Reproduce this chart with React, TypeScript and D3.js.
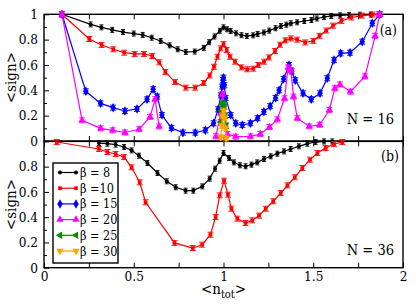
import * as d3 from "d3";
import { useEffect, useRef } from "react";

type Pt = [number, number];

// panel (a), N = 16
const topB8: Pt[] = [
  [0.1, 1.0], [0.26, 0.92], [0.32, 0.897], [0.38, 0.877], [0.44, 0.86], [0.5, 0.848],
  [0.55, 0.837], [0.6, 0.815], [0.65, 0.789], [0.7, 0.755], [0.745, 0.724], [0.79, 0.703],
  [0.84, 0.706], [0.89, 0.735], [0.92, 0.78], [0.95, 0.825], [0.98, 0.87], [1.0, 0.897],
  [1.02, 0.882], [1.04, 0.868], [1.07, 0.85], [1.1, 0.835], [1.13, 0.829], [1.165, 0.834],
  [1.19, 0.845], [1.225, 0.856], [1.255, 0.871], [1.29, 0.89], [1.32, 0.907], [1.35, 0.918],
  [1.375, 0.929], [1.41, 0.937], [1.45, 0.947], [1.49, 0.955], [1.52, 0.967], [1.56, 0.978],
  [1.6, 0.987], [1.65, 0.992], [1.7, 0.995], [1.76, 0.997], [1.82, 0.998], [1.87, 1.0],
];
const topB10: Pt[] = [
  [0.1, 1.0], [0.252, 0.805], [0.321, 0.758], [0.386, 0.724], [0.447, 0.697], [0.505, 0.687],
  [0.557, 0.687], [0.603, 0.671], [0.642, 0.621], [0.676, 0.545], [0.73, 0.465], [0.79, 0.421],
  [0.842, 0.421], [0.89, 0.458], [0.923, 0.517], [0.947, 0.586], [0.966, 0.665], [0.984, 0.731],
  [1.0, 0.765], [1.018, 0.718], [1.036, 0.665], [1.064, 0.626], [1.1, 0.581], [1.132, 0.566],
  [1.166, 0.571], [1.194, 0.6], [1.226, 0.626], [1.253, 0.66], [1.287, 0.71], [1.315, 0.76],
  [1.345, 0.795], [1.375, 0.81], [1.41, 0.8], [1.455, 0.778], [1.5, 0.79], [1.535, 0.83],
  [1.572, 0.872], [1.61, 0.91], [1.657, 0.948], [1.712, 0.975], [1.77, 0.99], [1.83, 0.998],
  [1.87, 1.0],
];
const topB15: Pt[] = [
  [0.1, 1.0], [0.233, 0.392], [0.315, 0.297], [0.385, 0.263], [0.451, 0.237], [0.518, 0.253],
  [0.574, 0.329], [0.608, 0.409], [0.631, 0.35], [0.657, 0.205], [0.71, 0.103], [0.774, 0.066],
  [0.843, 0.066], [0.899, 0.085], [0.945, 0.14], [0.97, 0.25], [0.985, 0.36], [0.992, 0.43],
  [0.997, 0.48], [1.0, 0.5], [1.005, 0.44], [1.012, 0.34], [1.04, 0.205], [1.068, 0.14],
  [1.105, 0.126], [1.15, 0.14], [1.19, 0.18], [1.225, 0.23], [1.26, 0.275], [1.29, 0.34],
  [1.31, 0.4], [1.335, 0.49], [1.365, 0.6], [1.38, 0.55], [1.4, 0.48], [1.443, 0.376],
  [1.489, 0.329], [1.538, 0.376], [1.578, 0.495], [1.616, 0.64], [1.653, 0.692], [1.705, 0.697],
  [1.773, 0.784], [1.829, 0.929], [1.87, 1.0],
];
const topB20Left: Pt[] = [
  [0.1, 1.0], [0.212, 0.163], [0.316, 0.1], [0.383, 0.084], [0.451, 0.067], [0.53, 0.093],
  [0.591, 0.19], [0.619, 0.33], [0.641, 0.115],
];
const topB20Right: Pt[] = [
  [0.958, 0.037], [0.984, 0.22], [0.995, 0.37], [1.005, 0.2], [1.022, 0.055], [1.068, 0.034],
  [1.15, 0.036], [1.205, 0.055], [1.256, 0.11], [1.3, 0.17], [1.34, 0.337], [1.36, 0.58],
  [1.375, 0.56], [1.39, 0.35], [1.411, 0.18], [1.478, 0.115], [1.536, 0.128], [1.59, 0.245],
  [1.62, 0.416], [1.649, 0.446], [1.707, 0.389], [1.788, 0.51], [1.845, 0.83], [1.87, 1.0],
];
const topB25: Pt[] = [
  [0.985, 0.15], [0.99, 0.24], [0.995, 0.29], [1.0, 0.3], [1.005, 0.27], [1.01, 0.2], [1.015, 0.12],
];
const topB30: Pt[] = [
  [0.985, 0.03], [0.99, 0.12], [0.995, 0.2], [1.0, 0.24], [1.005, 0.18], [1.01, 0.1], [1.015, 0.02],
];

// panel (b), N = 36
const botB8: Pt[] = [
  [0.306, 0.987], [0.353, 0.982], [0.399, 0.974], [0.446, 0.956], [0.488, 0.929], [0.529, 0.887],
  [0.576, 0.829], [0.632, 0.75], [0.684, 0.684], [0.734, 0.637], [0.789, 0.61], [0.832, 0.61],
  [0.882, 0.644], [0.923, 0.705], [0.953, 0.784], [0.979, 0.847], [1.0, 0.908], [1.031, 0.869],
  [1.058, 0.834], [1.092, 0.811], [1.123, 0.803], [1.156, 0.816], [1.188, 0.834], [1.226, 0.861],
  [1.263, 0.882], [1.3, 0.903], [1.337, 0.921], [1.374, 0.94], [1.42, 0.961], [1.467, 0.982],
  [1.513, 0.995], [1.56, 1.0], [1.606, 1.0],
];
const botB10: Pt[] = [
  [0.071, 0.995], [0.306, 0.94], [0.353, 0.916], [0.399, 0.9], [0.446, 0.876], [0.488, 0.795],
  [0.533, 0.676], [0.566, 0.518], [0.727, 0.196], [0.829, 0.156], [0.881, 0.182], [0.927, 0.261],
  [0.956, 0.401], [0.979, 0.573], [1.003, 0.689], [1.025, 0.578], [1.044, 0.467], [1.077, 0.388],
  [1.123, 0.354], [1.16, 0.375], [1.198, 0.412], [1.235, 0.467], [1.277, 0.526], [1.319, 0.591],
  [1.356, 0.652], [1.397, 0.716], [1.439, 0.789], [1.482, 0.855], [1.523, 0.908], [1.569, 0.948],
  [1.616, 0.979], [1.662, 0.995],
];

const betas = ["8", "10", "15", "20", "25", "30"];
const legendLabels = ["β = 8", "β =10", "β = 15", "β = 20", "β = 25", "β = 30"];
const xTicks = [0, 0.25, 0.5, 0.75, 1, 1.25, 1.5, 1.75, 2];
const yTicks = [0, 0.1, 0.2, 0.3, 0.4, 0.5, 0.6, 0.7, 0.8, 0.9, 1];

const styles: Record<string, { color: string; symbol: d3.SymbolType; size: number; rotate: number }> = {
  "8": { color: "#000000", symbol: d3.symbolCircle, size: 13, rotate: 0 },
  "10": { color: "#ff0000", symbol: d3.symbolSquare, size: 14, rotate: 0 },
  "15": { color: "#0000ff", symbol: d3.symbolDiamond, size: 26, rotate: 0 },
  "20": { color: "#ff00ff", symbol: d3.symbolTriangle, size: 24, rotate: 0 },
  "25": { color: "#008b00", symbol: d3.symbolTriangle, size: 24, rotate: -90 },
  "30": { color: "#ffa500", symbol: d3.symbolTriangle, size: 24, rotate: 180 },
};

const W = 416;
const H = 306;
const FONT = "'DejaVu Serif Condensed', 'DejaVu Serif', serif";

export default function App() {
  const svgRef = useRef<SVGSVGElement>(null);

  useEffect(() => {
    document.body.style.margin = "0";
    if (!svgRef.current) return;
    const svg = d3.select(svgRef.current);
    svg.selectAll("*").remove();

    const x = d3.scaleLinear().domain([0, 2]).range([44, 403]);
    const yTop = d3.scaleLinear().domain([0, 1]).range([141, 14.3]);
    const yBot = d3.scaleLinear().domain([0, 1]).range([267.7, 141.4]);

    const isMajorY = (d: number) => Math.round(d * 10) % 2 === 0;
    const isMajorX = (d: number) => Math.round(d * 4) % 2 === 0;

    const styleAxis = (g: d3.Selection<SVGGElement, unknown, null, undefined>) => {
      g.attr("font-family", null).attr("font-size", 13.5);
      g.select(".domain").remove();
      g.selectAll(".tick line").attr("stroke", "#000").attr("stroke-width", 1);
      g.selectAll("text").attr("fill", "#000");
    };

    // axes for one panel
    const drawAxes = (y: d3.ScaleLinear<number, number>, showX: boolean, yLabels: (d: number) => string) => {
      const gb = svg
        .append("g")
        .attr("transform", `translate(0,${y(0)})`)
        .call(
          d3
            .axisBottom(x)
            .tickValues(xTicks)
            .tickSize(-5)
            .tickPadding(4)
            .tickFormat((d) => (showX && isMajorX(+d) ? d3.format("")(+d) : "")),
        );
      styleAxis(gb);

      const gt = svg
        .append("g")
        .attr("transform", `translate(0,${y(1)})`)
        .call(d3.axisTop(x).tickValues(xTicks).tickSize(-5).tickFormat(() => ""));
      styleAxis(gt);

      const gl = svg
        .append("g")
        .attr("transform", `translate(${x(0)},0)`)
        .call(
          d3
            .axisLeft(y)
            .tickValues(yTicks)
            .tickSize(-5)
            .tickPadding(6)
            .tickFormat((d) => (isMajorY(+d) ? yLabels(+d) : "")),
        );
      styleAxis(gl);
      gl.selectAll<SVGLineElement, number>(".tick line").attr("x2", (d) => (isMajorY(d) ? 5 : 3));

      svg
        .append("rect")
        .attr("x", x(0))
        .attr("y", y(1))
        .attr("width", x(2) - x(0))
        .attr("height", y(0) - y(1))
        .attr("fill", "none")
        .attr("stroke", "#000")
        .attr("stroke-width", 1.4);
    };

    const fmtY = (d: number) => (d === 0 ? "0" : d === 1 ? "1" : d3.format(".1f")(d));
    drawAxes(yTop, false, fmtY);
    drawAxes(yBot, true, (d) => (d === 1 ? "" : fmtY(d)));

    const symbolPath = (beta: string) => d3.symbol().type(styles[beta].symbol).size(styles[beta].size)();

    const drawSeries = (pts: Pt[], beta: string, y: d3.ScaleLinear<number, number>) => {
      const st = styles[beta];
      const line = d3
        .line<Pt>()
        .x((d) => x(d[0]))
        .y((d) => y(d[1]));
      const g = svg.append("g");
      g.append("path")
        .attr("d", line(pts))
        .attr("fill", "none")
        .attr("stroke", st.color)
        .attr("stroke-width", 1.2);
      const cap = beta === "8" ? 2 : 3;
      g.selectAll(".err")
        .data(pts)
        .enter()
        .append("path")
        .attr("d", (d) => {
          const px = x(d[0]);
          const py = y(d[1]);
          return `M${px - cap},${py - 2.5}h${cap * 2}M${px},${py - 2.5}v5M${px - cap},${py + 2.5}h${cap * 2}`;
        })
        .attr("stroke", st.color)
        .attr("stroke-width", 0.9)
        .attr("fill", "none");
      g.selectAll(".mark")
        .data(pts)
        .enter()
        .append("path")
        .attr("d", symbolPath(beta))
        .attr("transform", (d) => `translate(${x(d[0])},${y(d[1])}) rotate(${st.rotate})`)
        .attr("fill", st.color);
    };

    drawSeries(topB8, "8", yTop);
    drawSeries(topB10, "10", yTop);
    drawSeries(topB15, "15", yTop);
    drawSeries(topB20Left, "20", yTop);
    drawSeries(topB20Right, "20", yTop);
    drawSeries(topB25, "25", yTop);
    drawSeries(topB30, "30", yTop);
    drawSeries(botB8, "8", yBot);
    drawSeries(botB10, "10", yBot);

    // panel labels
    const addText = (tx: number, ty: number, txt: string, size: number, anchor = "start") =>
      svg
        .append("text")
        .attr("x", tx)
        .attr("y", ty)
        .attr("text-anchor", anchor)
        .attr("font-size", size)
        .attr("fill", "#000")
        .text(txt);

    addText(397, 35, "(a)", 14, "end");
    addText(394, 124, "N = 16", 14.5, "end");
    addText(399, 161, "(b)", 14, "end");
    addText(394, 255, "N = 36", 14.5, "end");

    // axis titles
    [yTop, yBot].forEach((y) =>
      svg
        .append("text")
        .attr("transform", `translate(16,${y(0.5)}) rotate(-90)`)
        .attr("text-anchor", "middle")
        .attr("font-size", 15)
        .text("<sign>"),
    );

    const xt = svg
      .append("text")
      .attr("x", x(1))
      .attr("y", 294)
      .attr("text-anchor", "middle")
      .attr("font-size", 15);
    xt.append("tspan").text("<n");
    xt.append("tspan").attr("dy", 4).attr("font-size", 11).text("tot");
    xt.append("tspan").attr("dy", -4).text(">");

    // legend
    const lg = svg.append("g");
    lg.append("rect")
      .attr("x", 53)
      .attr("y", 163)
      .attr("width", 65)
      .attr("height", 100)
      .attr("fill", "#fff")
      .attr("stroke", "#000")
      .attr("stroke-width", 1.4);
    betas.forEach((b, i) => {
      const st = styles[b];
      const ly = 172.5 + i * 15.7;
      lg.append("line")
        .attr("x1", 60)
        .attr("x2", 76)
        .attr("y1", ly)
        .attr("y2", ly)
        .attr("stroke", st.color)
        .attr("stroke-width", 1.2);
      [60, 76].forEach((lx) =>
        lg
          .append("path")
          .attr("d", symbolPath(b))
          .attr("transform", `translate(${lx},${ly}) rotate(${st.rotate})`)
          .attr("fill", st.color),
      );
      lg.append("text")
        .attr("x", 80)
        .attr("y", ly + 4.5)
        .attr("font-size", 12.5)
        .text(legendLabels[i]);
    });
  }, []);

  return (
    <svg
      ref={svgRef}
      width={W}
      height={H}
      style={{ display: "block", background: "#fff", fontFamily: FONT, fontStretch: "condensed" }}
    />
  );
}
